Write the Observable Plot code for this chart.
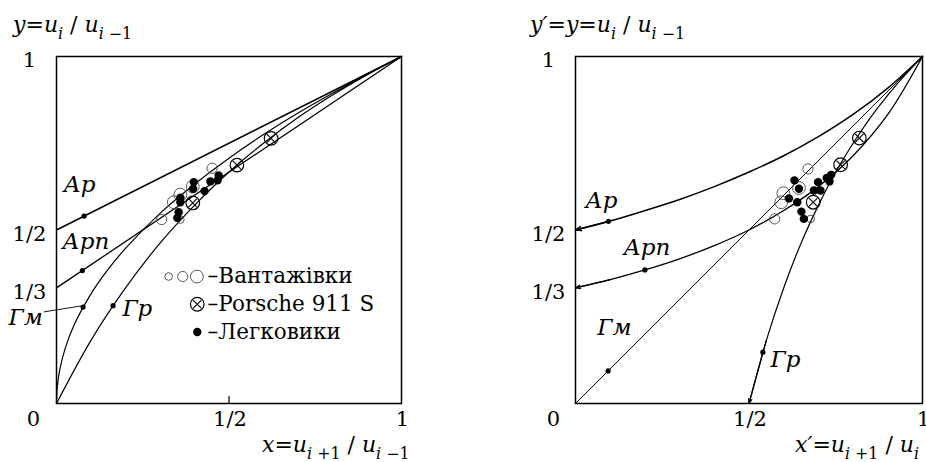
<!DOCTYPE html>
<html><head><meta charset="utf-8">
<script src="https://cdn.jsdelivr.net/npm/d3@7"></script>
<script src="https://cdn.jsdelivr.net/npm/@observablehq/plot@0.6"></script>
<style>
body{margin:0;background:#fff;}
#wrap{display:flex;width:926px;height:462px;overflow:hidden;background:#fff;}
#wrap svg{flex:none;}
#wrap svg text{font-family:"DejaVu Serif","Liberation Serif",serif;}
</style></head><body><div id="wrap"></div>
<script>
// ---------- LEFT PANEL DATA: x = u(i+1)/u(i-1), y = u(i)/u(i-1) ----------
const apX  = [0, 1];
const apY  = [0.5, 1];
const apnX = [0, 1];
const apnY = [0.3333, 1];
const gmX  = [0, 0.0025, 0.01, 0.025, 0.05, 0.1, 0.15, 0.2, 0.3, 0.4, 0.5, 0.6, 0.7, 0.8, 0.9, 1];
const gmY  = [0, 0.05, 0.1, 0.158, 0.224, 0.316, 0.387, 0.447, 0.548, 0.632, 0.707, 0.775, 0.837, 0.894, 0.949, 1];
const grX  = [0, 0.1, 0.2, 0.3, 0.4, 0.5, 0.6, 0.7, 0.8, 0.9, 1];
const grY  = [0, 0.182, 0.333, 0.462, 0.571, 0.667, 0.75, 0.824, 0.889, 0.947, 1];
const markX = [0.08, 0.075, 0.077, 0.164];
const markY = [0.54, 0.383, 0.278, 0.282];

const truckX = [0.451, 0.359, 0.340, 0.305, 0.359, 0.395];
const truckY = [0.678, 0.602, 0.580, 0.530, 0.530, 0.625];
const truckClass = [2, 3, 3, 2, 1, 3];
const porscheX = [0.622, 0.523, 0.395];
const porscheY = [0.764, 0.687, 0.578];
const carX = [0.398, 0.396, 0.446, 0.470, 0.467, 0.429, 0.359, 0.359, 0.354, 0.350];
const carY = [0.638, 0.619, 0.640, 0.657, 0.643, 0.612, 0.593, 0.580, 0.551, 0.535];

// ---------- RIGHT PANEL DATA: x' = u(i+1)/u(i), y' = y ----------
const apRX  = [0, 0.1, 0.2, 0.3, 0.4, 0.5, 0.6, 0.7, 0.8, 0.9, 1];
const apRY  = [0.5, 0.526, 0.556, 0.588, 0.625, 0.667, 0.714, 0.769, 0.833, 0.909, 1];
const apnRX = [0, 0.1, 0.2, 0.3, 0.4, 0.5, 0.6, 0.7, 0.8, 0.9, 1];
const apnRY = [0.333, 0.357, 0.385, 0.417, 0.455, 0.5, 0.556, 0.625, 0.714, 0.833, 1];
const gmRX  = [0, 1];
const gmRY  = [0, 1];
const grRX  = [0.5, 0.55, 0.6, 0.65, 0.7, 0.75, 0.8, 0.85, 0.9, 0.95, 1];
const grRY  = [0, 0.182, 0.333, 0.462, 0.571, 0.667, 0.75, 0.824, 0.889, 0.947, 1];
const markRX = [0.095, 0.2, 0.094, 0.54];
const markRY = [0.525, 0.385, 0.094, 0.148];

const truckRX = [0.670, 0.599, 0.593, 0.574, 0.678, 0.644];
const truckRY = [0.676, 0.606, 0.580, 0.532, 0.532, 0.621];
const truckRClass = [2, 3, 3, 2, 1, 3];
const porscheRX = [0.818, 0.764, 0.685];
const porscheRY = [0.765, 0.688, 0.580];
const carRX = [0.631, 0.644, 0.615, 0.639, 0.651, 0.658, 0.699, 0.687, 0.706, 0.724, 0.737, 0.732];
const carRY = [0.643, 0.619, 0.591, 0.580, 0.553, 0.532, 0.638, 0.614, 0.614, 0.650, 0.659, 0.640];

// ---------- LABELS ----------
const curveNames = ["Ар", "Арп", "Гм", "Гр"];
const yTickVals = [1, 0.5, 1/3];
const yTickLabels = ["1", "1/2", "1/3"];
const xTickVals = [0.5, 1];
const xTickLabels = ["1/2", "1"];
const legendLabels = ["–Вантажівки", "–Porsche 911 S", "–Легковики"];

const FONT = "\"DejaVu Serif\", \"Liberation Serif\", serif";
const pts = (xs, ys, cs) => xs.map((x, i) => ({x, y: ys[i], c: cs ? cs[i] : undefined}));

function rich(svg, x, y, parts, size) {
  const t = d3.select(svg).append("text")
    .attr("x", x).attr("y", y)
    .attr("text-anchor", "start")
    .style("font-size", size + "px")
    .attr("fill", "black").style("white-space", "pre");
  let shifted = false;
  for (const [s, it, sub] of parts) {
    const ts = t.append("tspan").text(s);
    if (it) ts.style("font-style", "italic");
    if (sub && !shifted) { ts.attr("dy", size * 0.3); shifted = true; }
    else if (!sub && shifted) { ts.attr("dy", -size * 0.3); shifted = false; }
    if (sub) ts.style("font-size", (size * 0.72) + "px");
  }
}

function panel(cfg) {
  const marks = [
    Plot.frame({stroke: "black", strokeWidth: 1.5}),
    ...cfg.curves.map(c => Plot.line(c.data, {
      x: "x", y: "y", curve: "catmull-rom", stroke: "black", strokeWidth: c.sw
    })),
    ...cfg.curves.filter(c => c.arrow).map(c => Plot.arrow([c.data], {
      x1: d => d[1].x, y1: d => d[1].y, x2: d => d[0].x, y2: d => d[0].y,
      stroke: "black", strokeWidth: c.sw, headLength: 6, headAngle: 40
    })),
    Plot.dot(cfg.marks, {x: "x", y: "y", r: 2.6, fill: "black"}),
    Plot.dot(cfg.trucks, {x: "x", y: "y", r: "c", stroke: "#444", strokeWidth: 0.9, fill: "none"}),
    Plot.dot(cfg.cars, {x: "x", y: "y", r: 4.2, fill: "black"}),
    Plot.dot(cfg.porsche, {x: "x", y: "y", r: 6.8, stroke: "black", strokeWidth: 1.2, fill: "none"}),
    Plot.dot(cfg.porsche, {x: "x", y: "y", symbol: "times", r: 3.9, stroke: "black", strokeWidth: 1.1}),
    Plot.text(cfg.labels, {x: "x", y: "y", text: "name", textAnchor: "start", fontStyle: "italic", fontSize: 23}),
    Plot.text(yTickVals, {x: 0, y: d => d, text: (d, i) => yTickLabels[i], dx: cfg.ytdx, dy: 4, textAnchor: "middle", fontSize: 21}),
    Plot.text(xTickVals, {x: d => d, y: 0, text: (d, i) => xTickLabels[i], dy: 16, dx: 1, textAnchor: "middle", fontSize: 21}),
    Plot.text(["0"], {x: 0, y: 0, text: d => d, dx: cfg.zdx, dy: 16, textAnchor: "middle", fontSize: 21}),
    ...(cfg.extra || [])
  ];
  return Plot.plot({
    width: 463, height: 462,
    marginLeft: cfg.ml, marginRight: cfg.mr, marginTop: 56, marginBottom: 59,
    x: {domain: [0, 1], axis: null},
    y: {domain: [0, 1], axis: null},
    r: {type: "linear", domain: [1, 3], range: [3.8, 6.4]},
    style: {fontFamily: FONT, fontSize: "21px", background: "white", color: "black", overflow: "hidden"},
    marks
  });
}

// label positions (data units)
const leftLabels = [
  {name: curveNames[0], x: 0.02, y: 0.631},
  {name: curveNames[1], x: 0.017, y: 0.467},
  {name: curveNames[2], x: -0.139, y: 0.248},
  {name: curveNames[3], x: 0.191, y: 0.274}
];
const rightLabels = [
  {name: curveNames[0], x: 0.028, y: 0.585},
  {name: curveNames[1], x: 0.138, y: 0.45},
  {name: curveNames[2], x: 0.063, y: 0.219},
  {name: curveNames[3], x: 0.562, y: 0.127}
];

const legendY = i => 0.366 - i * 0.08;
const leftExtra = [
  Plot.ruleX(xTickVals.slice(0, 1), {y1: 0, y2: 0.02, stroke: "black", strokeWidth: 1.2}),
  Plot.link([0], {x1: -0.037, y1: 0.264, x2: 0.077, y2: 0.282, stroke: "black", strokeWidth: 0.9}),
  Plot.dot([1, 2, 3], {x: d => 0.325 + (d - 1) * 0.041, y: legendY(0), r: d => d, stroke: "#444", strokeWidth: 0.9, fill: "none"}),
  Plot.dot([0], {x: 0.408, y: legendY(1), r: 6.8, stroke: "black", strokeWidth: 1.2, fill: "none"}),
  Plot.dot([0], {x: 0.408, y: legendY(1), symbol: "times", r: 3.9, stroke: "black", strokeWidth: 1.1}),
  Plot.dot([0], {x: 0.408, y: legendY(2), r: 4.2, fill: "black"}),
  Plot.text(legendLabels, {x: 0.438, y: (d, i) => legendY(i), text: d => d, textAnchor: "start", fontSize: 21.5})
];

const left = panel({
  ml: 56, mr: 62, ytdx: -27, zdx: -23,
  curves: [
    {data: pts(apX, apY), sw: 1.5},
    {data: pts(apnX, apnY), sw: 1.3},
    {data: pts(gmX, gmY), sw: 1.2},
    {data: pts(grX, grY), sw: 1.2}
  ],
  marks: pts(markX, markY),
  trucks: pts(truckX, truckY, truckClass),
  cars: pts(carX, carY),
  porsche: pts(porscheX, porscheY),
  labels: leftLabels,
  extra: leftExtra
});

const right = panel({
  ml: 112, mr: 4, ytdx: -27, zdx: -22,
  curves: [
    {data: pts(apRX, apRY), sw: 1.5, arrow: true},
    {data: pts(apnRX, apnRY), sw: 1.3, arrow: true},
    {data: pts(gmRX, gmRY), sw: 1.0},
    {data: pts(grRX, grRY), sw: 1.2, arrow: true}
  ],
  marks: pts(markRX, markRY),
  trucks: pts(truckRX, truckRY, truckRClass),
  cars: pts(carRX, carRY),
  porsche: pts(porscheRX, porscheRY),
  labels: rightLabels
});

const wrap = document.getElementById("wrap");
wrap.append(left, right);

const S = 22;
rich(left, 13, 32, [["y", true], ["=", false], ["u", true], ["i", true, true], [" / ", false], ["u", true], ["i", true, true], [" −1", false, true]], S);
rich(left, 262, 452, [["x", true], ["=", false], ["u", true], ["i", true, true], [" +1", false, true], [" / ", false], ["u", true], ["i", true, true], [" −1", false, true]], S);
rich(right, 67, 32, [["y′", true], ["=", false], ["y", true], ["=", false], ["u", true], ["i", true, true], [" / ", false], ["u", true], ["i", true, true], [" −1", false, true]], S);
rich(right, 332, 452, [["x′", true], ["=", false], ["u", true], ["i", true, true], [" +1", false, true], [" / ", false], ["u", true], ["i", true, true]], S);
</script></body></html>
